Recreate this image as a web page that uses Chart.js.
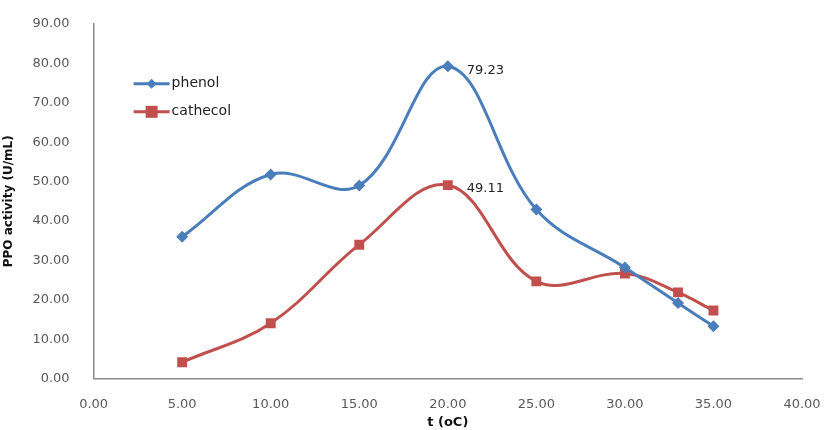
<!DOCTYPE html>
<html>
<head>
<meta charset="utf-8">
<script src="https://cdn.jsdelivr.net/npm/chart.js"></script>
<style>
  body { margin: 0; background: #fff; }
  #wrap { width: 825px; height: 430px; }
</style>
</head>
<body>
<div id="wrap"><canvas id="ppoChart" width="825" height="430"></canvas></div>
<script>
// temperature (oC) and PPO activity (U/mL)
const temps = [5, 10, 15, 20, 25, 30, 33, 35];
const phenol = [36.0, 51.8, 49.0, 79.23, 42.9, 28.2, 19.2, 13.3];
const cathecol = [4.2, 14.1, 34.0, 49.11, 24.7, 26.7, 21.9, 17.3];
const seriesNames = ['phenol', 'cathecol'];
const xTicks = [0, 5, 10, 15, 20, 25, 30, 35, 40];
const yTicks = [0, 10, 20, 30, 40, 50, 60, 70, 80, 90];

const blue = '#4a7ebb';
const red = '#c0504d';
const tickFont = { family: 'DejaVu Sans', size: 13 };

function toPoints(xs, ys) {
  return xs.map((x, i) => ({ x: x, y: ys[i] }));
}

// legend drawn inside the plot, top-left like the original
const insideLegend = {
  id: 'insideLegend',
  afterDraw(chart) {
    const ctx = chart.ctx;
    const area = chart.chartArea;
    chart.data.datasets.forEach((ds, i) => {
      const y = area.top + 60 + i * 28;
      const x0 = area.left + 40;
      const x1 = x0 + 36;
      ctx.save();
      ctx.strokeStyle = ds.borderColor;
      ctx.lineWidth = 3;
      ctx.beginPath();
      ctx.moveTo(x0, y);
      ctx.lineTo(x1, y);
      ctx.stroke();
      ctx.fillStyle = ds.backgroundColor;
      const mx = (x0 + x1) / 2;
      if (ds.pointStyle === 'rectRot') {
        ctx.beginPath();
        ctx.moveTo(mx, y - 5); ctx.lineTo(mx + 5, y); ctx.lineTo(mx, y + 5); ctx.lineTo(mx - 5, y);
        ctx.closePath(); ctx.fill();
      } else {
        ctx.fillRect(mx - 6, y - 6, 12, 12);
      }
      ctx.fillStyle = '#222';
      ctx.font = '14px "DejaVu Sans"';
      ctx.textBaseline = 'middle';
      ctx.fillText(ds.label, x1 + 2, y);
      ctx.restore();
    });
  }
};

// value label beside the highest point of each series
const peakLabels = {
  id: 'peakLabels',
  afterDatasetsDraw(chart) {
    const ctx = chart.ctx;
    chart.data.datasets.forEach((ds, i) => {
      const ys = ds.data.map(p => p.y);
      const k = ys.indexOf(Math.max(...ys));
      const el = chart.getDatasetMeta(i).data[k];
      ctx.save();
      ctx.fillStyle = '#222';
      ctx.font = '13px "DejaVu Sans"';
      ctx.textBaseline = 'middle';
      ctx.fillText(ys[k].toFixed(2), el.x + 19, el.y + 4);
      ctx.restore();
    });
  }
};

new Chart(document.getElementById('ppoChart').getContext('2d'), {
  type: 'scatter',
  data: {
    datasets: [{
      label: seriesNames[0],
      data: toPoints(temps, phenol),
      borderColor: blue,
      backgroundColor: blue,
      showLine: true,
      borderWidth: 3,
      tension: 0.38,
      pointStyle: 'rectRot',
      pointRadius: 6,
      pointBorderWidth: 0
    }, {
      label: seriesNames[1],
      data: toPoints(temps, cathecol),
      borderColor: red,
      backgroundColor: red,
      showLine: true,
      borderWidth: 3,
      tension: 0.38,
      pointStyle: 'rect',
      pointRadius: 7,
      pointBorderWidth: 0
    }]
  },
  options: {
    responsive: false,
    animation: false,
    layout: { padding: { top: 14, right: 0, bottom: 0, left: 2 } },
    plugins: {
      legend: { display: false },
      tooltip: { enabled: false }
    },
    scales: {
      x: {
        type: 'linear',
        min: 0,
        max: 40,
        afterBuildTicks: axis => { axis.ticks = xTicks.map(v => ({ value: v })); },
        afterFit: axis => { axis.paddingRight = 23; },
        grid: { display: false },
        border: { display: true, color: '#8c8c8c', width: 1.5 },
        ticks: { color: '#595959', font: tickFont, padding: 10, callback: v => v.toFixed(2) },
        title: { display: true, text: 't (oC)', color: '#111', font: { family: 'DejaVu Sans', size: 13, weight: 'bold' }, padding: { top: -8, bottom: 0 } }
      },
      y: {
        min: 0,
        max: 90,
        afterBuildTicks: axis => { axis.ticks = yTicks.map(v => ({ value: v })); },
        grid: { display: false },
        border: { display: true, color: '#8c8c8c', width: 1.5 },
        ticks: { color: '#595959', font: tickFont, padding: 16, callback: v => v.toFixed(2) },
        title: { display: true, text: 'PPO activity (U/mL)', color: '#111', font: { family: 'DejaVu Sans', size: 12, weight: 'bold' }, padding: { top: 0, bottom: 0 } }
      }
    }
  },
  plugins: [insideLegend, peakLabels]
});
</script>
</body>
</html>
